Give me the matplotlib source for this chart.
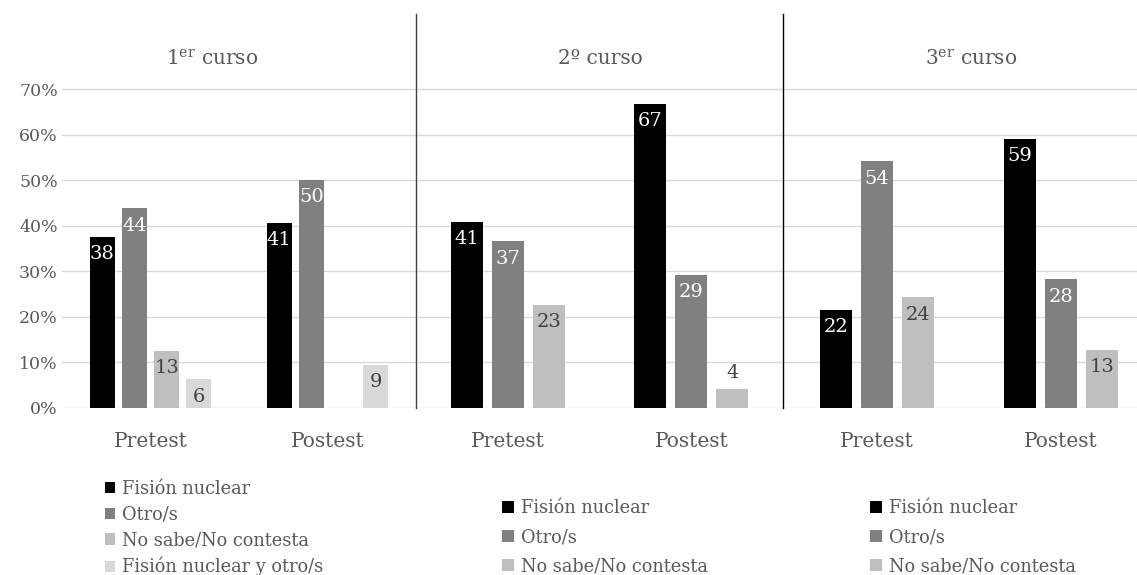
import matplotlib
matplotlib.use('Agg')
import matplotlib.pyplot as plt
from matplotlib.patches import Patch
import math

plt.rcParams['font.family'] = ['DejaVu Serif']
plt.rcParams['mathtext.fontset'] = 'dejavuserif'

# ---------------- data ----------------
courses = ['1$^{\\mathregular{er}}$ curso', '2º curso', '3$^{\\mathregular{er}}$ curso']
tests = ['Pretest', 'Postest']
series_names = ['Fisión nuclear', 'Otro/s', 'No sabe/No contesta', 'Fisión nuclear y otro/s']

c1_fision = [37.5, 40.6]
c1_otro = [43.8, 50.0]
c1_nsnc = [12.5, float('nan')]
c1_fision_otro = [6.3, 9.4]

c2_fision = [40.9, 66.7]
c2_otro = [36.6, 29.2]
c2_nsnc = [22.7, 4.2]

c3_fision = [21.6, 59.1]
c3_otro = [54.1, 28.2]
c3_nsnc = [24.3, 12.7]

yticks = [0, 10, 20, 30, 40, 50, 60, 70]

# ---------------- style ----------------
colors = ['#000000', '#808080', '#BFBFBF', '#D9D9D9']
label_colors = ['white', 'white', '#404040', '#404040']
text_gray = '#595959'

W, H = 1137, 575
fig = plt.figure(figsize=(W / 100, H / 100), dpi=100)


def fx(px):
    return px / W


def fy(py):
    return (H - py) / H


y_top, y_bot = 14, 408
panels = [
    dict(x0=62, x1=416, xlim=(-0.5, 1.5), width=0.141, slot=0.182,
         series=[c1_fision, c1_otro, c1_nsnc, c1_fision_otro], title_x=212,
         leg=(105, 480), leg_size=0.58, leg_space=0.43, spine=None),
    dict(x0=416, x1=783, xlim=(-0.5, 1.5), width=0.174, slot=0.2235,
         series=[c2_fision, c2_otro, c2_nsnc], title_x=600,
         leg=(502, 499), leg_size=0.68, leg_space=0.62, spine='#404040'),
    dict(x0=783, x1=1137, xlim=(-0.51, 1.414), width=0.174, slot=0.223,
         series=[c3_fision, c3_otro, c3_nsnc], title_x=971,
         leg=(870, 499), leg_size=0.68, leg_space=0.62, spine='#000000'),
]

ymax = 70 * (y_bot - y_top) / (y_bot - 89)

for k, p in enumerate(panels):
    ax = fig.add_axes([fx(p['x0']), fy(y_bot), fx(p['x1'] - p['x0']),
                       (y_bot - y_top) / H])
    ax.set_xlim(*p['xlim'])
    ax.set_ylim(0, ymax)
    ax.set_axisbelow(True)
    ax.yaxis.grid(True, color='#D9D9D9', linewidth=1.0)
    ax.set_yticks(yticks)
    for s in ['top', 'right', 'bottom', 'left']:
        ax.spines[s].set_visible(False)
    if p['spine'] is not None:
        ax.spines['left'].set_visible(True)
        ax.spines['left'].set_color(p['spine'])
        ax.spines['left'].set_linewidth(1.0)
    if k == 0:
        ax.set_yticklabels([f'{t}%' for t in yticks])
    else:
        ax.set_yticklabels([])
    ax.tick_params(axis='y', length=0, labelsize=12.5, labelcolor=text_gray, pad=3)
    ax.set_xticks(range(len(tests)))
    ax.set_xticklabels(tests)
    ax.tick_params(axis='x', length=0, labelsize=14.5, labelcolor=text_gray, pad=17)

    n = len(p['series'])
    for i, vals in enumerate(p['series']):
        off = (i - (n - 1) / 2) * p['slot']
        xs = [j + off for j in range(len(tests))]
        ax.bar(xs, [0 if math.isnan(v) else v for v in vals], width=p['width'],
               color=colors[i], linewidth=0, zorder=2)
        for xv, v in zip(xs, vals):
            if math.isnan(v):
                continue
            lab = str(int(v + 0.5))
            if v < 5:
                ax.annotate(lab, (xv, v), xytext=(0, 5), textcoords='offset points',
                            ha='center', va='bottom', fontsize=14, color='#404040')
            else:
                ax.annotate(lab, (xv, v), xytext=(0, -6), textcoords='offset points',
                            ha='center', va='top', fontsize=14, color=label_colors[i])

    fig.text(fx(p['title_x']), fy(59), courses[k], ha='center', va='center',
             fontsize=14.5, color=text_gray)

    handles = [Patch(facecolor=colors[i], edgecolor='none', label=series_names[i])
               for i in range(n)]
    lx, ly = p['leg']
    ax.legend(handles=handles, loc='upper left', bbox_to_anchor=(fx(lx), fy(ly)),
              bbox_transform=fig.transFigure, frameon=False, fontsize=12.8,
              labelcolor=text_gray, handlelength=p['leg_size'],
              handleheight=p['leg_size'], handletextpad=0.4,
              labelspacing=p['leg_space'], borderpad=0, borderaxespad=0)

fig.savefig('out.png', dpi=100)
